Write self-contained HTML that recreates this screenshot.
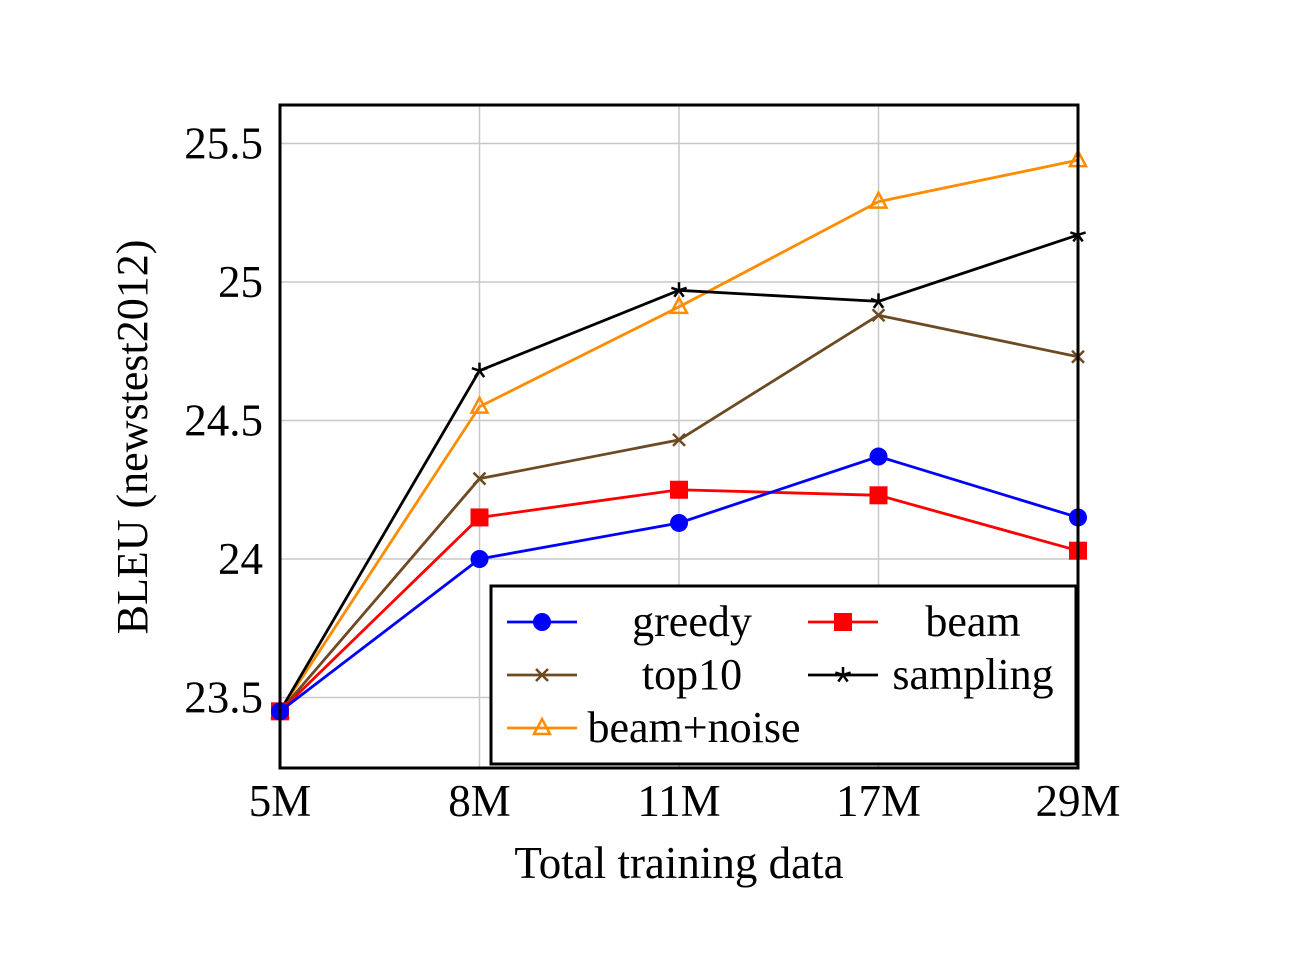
<!DOCTYPE html>
<html><head><meta charset="utf-8"><style>
body{margin:0;background:#fff;}
svg text{font-family:"Liberation Serif",serif;fill:#000;}
</style></head><body>
<svg id="chart" width="1308" height="948" xmlns="http://www.w3.org/2000/svg"></svg>
<script>
const categories=["5M","8M","11M","17M","29M"];
const greedy=[23.45,24.0,24.13,24.37,24.15];
const beam=[23.45,24.15,24.25,24.23,24.03];
const top10=[23.45,24.29,24.43,24.88,24.73];
const sampling=[23.45,24.68,24.97,24.93,25.17];
const beamNoise=[23.45,24.55,24.91,25.29,25.44];
const yTicks=[23.5,24,24.5,25,25.5];
const yTickLabels=["23.5","24","24.5","25","25.5"];

const NS="http://www.w3.org/2000/svg";
const svg=document.getElementById('chart');
const L=280,R=1078,T=105,B=768;
function xs(i){return L+i*(R-L)/(categories.length-1);}
function ys(v){return 559-(v-24)*277;}
function mk(tag,attrs,parent){const e=document.createElementNS(NS,tag);for(const k in attrs)e.setAttribute(k,attrs[k]);(parent||svg).appendChild(e);return e;}

yTicks.forEach((v,i)=>{
  const g=mk('line',{x1:L,x2:R,y1:ys(v),y2:ys(v),stroke:'#c8c8c8','stroke-width':1.5});
  
  
  const t=mk('text',{x:L-17,y:ys(v)+15,'font-size':45,'text-anchor':'end'});
  t.textContent=yTickLabels[i];
  
  
});
categories.forEach((c,i)=>{
  const g=mk('line',{x1:xs(i),x2:xs(i),y1:T,y2:B,stroke:'#c8c8c8','stroke-width':1.5});
  
  
  const t=mk('text',{x:xs(i),y:B+48,'font-size':45,'text-anchor':'middle'});
  t.textContent=c;
  
  
});

function marker(type,x,y,color,parent){
  let e;
  if(type==='circle'){e=mk('circle',{cx:x,cy:y,r:9,fill:color},parent);}
  else if(type==='square'){e=mk('rect',{x:x-9,y:y-9,width:18,height:18,fill:color},parent);}
  else if(type==='x'){e=mk('path',{d:`M${x-6},${y-6}L${x+6},${y+6}M${x-6},${y+6}L${x+6},${y-6}`,stroke:color,'stroke-width':2.5},parent);}
  else if(type==='star'){let d='';for(let k=0;k<5;k++){const a=-Math.PI/2+k*2*Math.PI/5;d+=`M${x},${y}L${x+8*Math.cos(a)},${y+8*Math.sin(a)}`;}e=mk('path',{d:d,stroke:color,'stroke-width':2.5},parent);}
  else {e=mk('path',{d:`M${x},${y-9}L${x+8},${y+6}L${x-8},${y+6}Z`,fill:'none',stroke:color,'stroke-width':2.5},parent);}
  
  
}
const series=[
  {name:'beam-noise',data:beamNoise,color:'#ff8c00',m:'tri'},
  {name:'sampling',data:sampling,color:'#000',m:'star'},
  {name:'top10',data:top10,color:'#6e4a23',m:'x'},
  {name:'beam',data:beam,color:'#f00',m:'square'},
  {name:'greedy',data:greedy,color:'#00f',m:'circle'}
];
series.forEach(s=>{
  const g=mk('g',{});
  
  
  const pts=s.data.map((v,i)=>xs(i)+','+ys(v)).join(' ');
  const pl=mk('polyline',{points:pts,fill:'none',stroke:s.color,'stroke-width':2.8},g);
  
  
  s.data.forEach((v,i)=>marker(s.m,xs(i),ys(v),s.color,g));
});

const fr=mk('rect',{x:L,y:T,width:R-L,height:B-T,fill:'none',stroke:'#000','stroke-width':3});



const lg=mk('g',{});


mk('rect',{x:491,y:586,width:585,height:178,fill:'#fff',stroke:'#000','stroke-width':3},lg);
const entries=[
  {label:'greedy',color:'#00f',m:'circle',x:507,y:622,tx:692},
  {label:'beam',color:'#f00',m:'square',x:808,y:622,tx:973},
  {label:'top10',color:'#6e4a23',m:'x',x:507,y:675,tx:692},
  {label:'sampling',color:'#000',m:'star',x:808,y:675,tx:973},
  {label:'beam+noise',color:'#ff8c00',m:'tri',x:507,y:728,tx:694}
];
entries.forEach(e=>{
  const g=mk('g',{},lg);
  
  
  mk('line',{x1:e.x,x2:e.x+70,y1:e.y,y2:e.y,stroke:e.color,'stroke-width':2.8},g);
  marker(e.m,e.x+35,e.y,e.color,g);
  const t=mk('text',{x:e.tx,y:e.y+14,'font-size':44,'text-anchor':'middle'},g);
  t.textContent=e.label;
});

const xt=mk('text',{x:679,y:878,'font-size':45,'text-anchor':'middle'});
xt.textContent='Total training data';


const yt=mk('text',{x:0,y:0,'font-size':44,'text-anchor':'middle',transform:'translate(147,437) rotate(-90)'});
yt.textContent='BLEU (newstest2012)';


</script>
</body></html>
